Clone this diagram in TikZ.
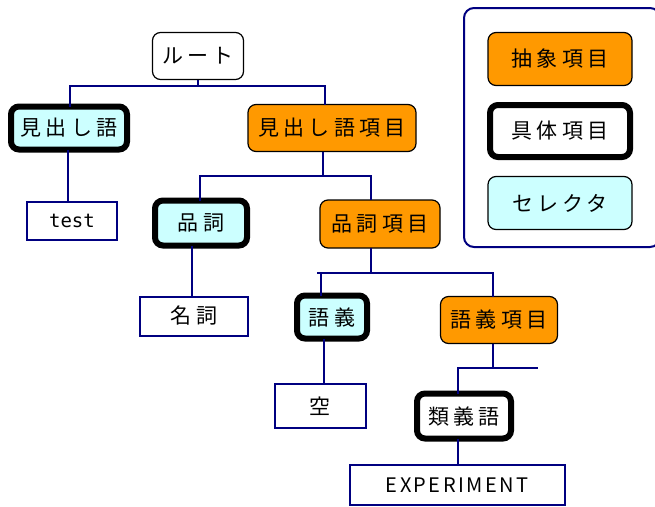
\documentclass[tikz,border=0pt]{standalone}
\usepackage{fontspec}
\newfontfamily\jp[LetterSpace=20]{Noto Sans CJK JP}
\newfontfamily\jpl[LetterSpace=12]{Noto Sans CJK JP}
\newfontfamily\mono{DejaVu Sans Mono}
\definecolor{navy}{HTML}{000080}
\definecolor{orng}{HTML}{FF9900}
\definecolor{cyanl}{HTML}{CCFFFF}
\begin{document}
\begin{tikzpicture}[x=1pt,y=-1pt,
  base/.style={inner sep=0pt, outer sep=0pt, align=center, font=\jp\fontsize{21}{24}\selectfont, text=black},
  abst/.style={base, draw=black, line width=1.2pt, rounded corners=8pt, fill=orng},
  conc/.style={base, draw=black, line width=6pt, rounded corners=8pt},
  sel/.style={conc, fill=cyanl},
  plain/.style={base, draw=black, line width=1.2pt, rounded corners=8pt, fill=white},
  leaf/.style={base, draw=navy, line width=2pt, fill=white},
  conn/.style={draw=navy, line width=2.2pt}]
\useasboundingbox (0,0) rectangle (655,506);
\fill[white] (0,0) rectangle (655,506);
% legend
\draw[navy, line width=2pt, rounded corners=10pt] (464,8) rectangle (660,247);
\node[abst, minimum width=144pt, minimum height=53pt] (lg1) at (560,59) {抽象項目};
\node[conc, minimum width=140pt, minimum height=52pt, fill=white] (lg2) at (560,131) {具体項目};
\node[abst, fill=cyanl, minimum width=144pt, minimum height=53pt] (lg3) at (560,203) {セレクタ};
% tree nodes
\node[plain, minimum width=91pt, minimum height=47pt] (root) at (198,56) {ルート};
\node[sel, minimum width=116pt, minimum height=43pt] (hw) at (69,128) {見出し語};
\node[abst, minimum width=168pt, minimum height=47pt] (hwi) at (332,128) {見出し語項目};
\node[leaf, minimum width=90pt, minimum height=38pt, font=\mono\fontsize{19}{22}\selectfont] (test) at (72,221) {test};
\node[sel, minimum width=92pt, minimum height=45pt] (pos) at (201,223) {品詞};
\node[abst, minimum width=120pt, minimum height=48pt] (posi) at (380,224) {品詞項目};
\node[leaf, minimum width=108pt, minimum height=39pt] (noun) at (194,316) {名詞};
\node[sel, minimum width=70pt, minimum height=43pt] (sense) at (332,317) {語義};
\node[abst, minimum width=117pt, minimum height=47pt] (sensei) at (499,320) {語義項目};
\node[leaf, minimum width=91pt, minimum height=44pt] (empty) at (320,406) {空};
\node[conc, fill=white, minimum width=94pt, minimum height=45pt] (syn) at (464,416) {類義語};
\node[leaf, minimum width=215pt, minimum height=40pt, font=\jpl\fontsize{20}{22}\selectfont] (exp) at (457,485) {EXPERIMENT};
% connectors
\coordinate (b1) at (198,86);
\draw[conn] (root.south) -- (b1);
\draw[conn] ([xshift=1pt]hw.north) |- (b1) -| ([xshift=-7pt]hwi.north);
\draw[conn] ([xshift=-1pt]hw.south) -- ([xshift=-1pt]hw.south |- test.north);
\coordinate (b2) at (323,176);
\draw[conn] ([xshift=-9pt]hwi.south) -- (b2);
\draw[conn] ([xshift=-1pt]pos.north) |- (b2) -| ([xshift=-9pt]posi.north);
\draw[conn] ([xshift=-9pt]pos.south) -- ([xshift=-9pt]pos.south |- noun.north);
\coordinate (b3) at (371,273);
\coordinate (b3l) at (317,273);
\draw[conn] ([xshift=-9pt]posi.south) -- (b3);
\draw[conn] (b3l) -- (b3) -| ([xshift=-6pt]sensei.north);
\draw[conn] ([xshift=-11pt]sense.north) -- ([xshift=-11pt]sense.north |- b3l);
\draw[conn] ([xshift=-8pt]sense.south) -- ([xshift=-8pt]sense.south |- empty.north);
\coordinate (b4) at (493,368);
\coordinate (b4r) at (538,368);
\draw[conn] ([xshift=-6pt]sensei.south) -- (b4) -- (b4r);
\draw[conn] ([xshift=-6pt]syn.north) |- (b4);
\draw[conn] ([xshift=-6pt]syn.south) -- ([xshift=-6pt]syn.south |- exp.north);
\end{tikzpicture}
\end{document}
